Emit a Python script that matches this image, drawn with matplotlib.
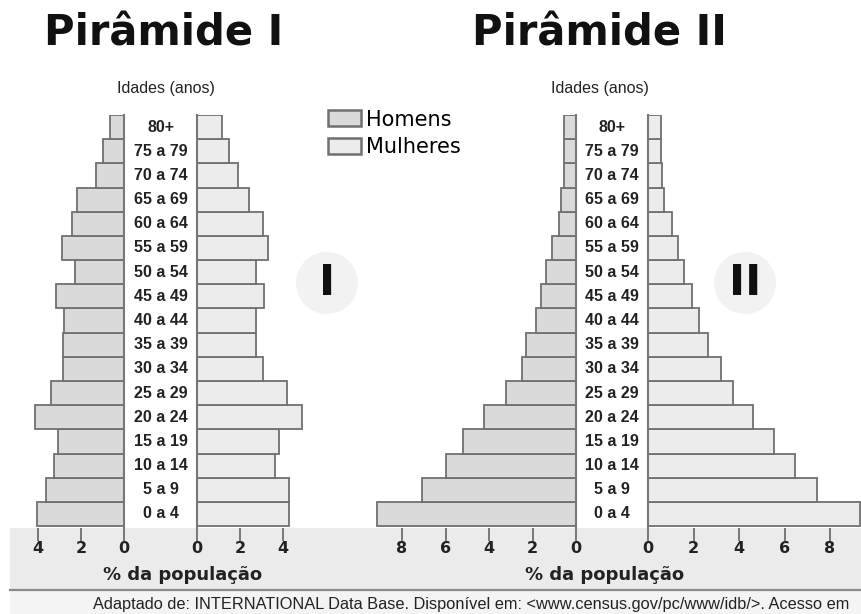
import matplotlib
matplotlib.use("Agg")
import matplotlib.pyplot as plt
from matplotlib.patches import Rectangle, Ellipse, Patch
from matplotlib import font_manager

ages = ["0 a 4", "5 a 9", "10 a 14", "15 a 19", "20 a 24", "25 a 29", "30 a 34",
        "35 a 39", "40 a 44", "45 a 49", "50 a 54", "55 a 59", "60 a 64",
        "65 a 69", "70 a 74", "75 a 79", "80+"]

# Pirâmide I (% da população)
homens_1 = [4.05, 3.65, 3.25, 3.05, 4.15, 3.4, 2.85, 2.85, 2.8, 3.15, 2.3, 2.9, 2.4, 2.2, 1.3, 1.0, 0.65]
mulheres_1 = [4.3, 4.3, 3.65, 3.8, 4.9, 4.2, 3.05, 2.75, 2.75, 3.1, 2.75, 3.3, 3.05, 2.4, 1.9, 1.5, 1.15]

# Pirâmide II (% da população)
homens_2 = [9.15, 7.1, 6.0, 5.2, 4.25, 3.2, 2.5, 2.3, 1.85, 1.6, 1.4, 1.1, 0.8, 0.7, 0.55, 0.55, 0.55]
mulheres_2 = [9.3, 7.45, 6.45, 5.55, 4.6, 3.75, 3.2, 2.65, 2.25, 1.95, 1.6, 1.3, 1.05, 0.7, 0.6, 0.55, 0.55]

ticks_1 = [0, 2, 4]
ticks_2 = [0, 2, 4, 6, 8]

W, H = 861, 614
names = {f.name for f in font_manager.fontManager.ttflist}
NARROW = "Liberation Sans Narrow" if "Liberation Sans Narrow" in names else "Liberation Sans"

fig = plt.figure(figsize=(W / 100, H / 100), dpi=100)
fig.patch.set_facecolor("white")


def fx(px):
    return px / W


def fy(py):
    return 1 - py / H


def add_ax(x0, x1, y0, y1):
    ax = fig.add_axes([fx(x0), fy(y1), fx(x1) - fx(x0), fy(y0) - fy(y1)])
    ax.set_zorder(2)
    return ax


# background bands
fig.patches.append(Rectangle((fx(10), fy(590)), 1 - fx(10), fy(528) - fy(590),
                             transform=fig.transFigure, facecolor="#ebebeb", edgecolor="none", zorder=-10))
fig.patches.append(Rectangle((fx(10), 0), 1 - fx(10), fy(590),
                             transform=fig.transFigure, facecolor="#f4f4f4", edgecolor="none", zorder=-10))
fig.lines.append(plt.Line2D([fx(10), 1], [fy(590), fy(590)], transform=fig.transFigure,
                            color="#8a8a8a", lw=1.6, zorder=-9))

C_H = "#dadada"
C_M = "#ececec"
EC = "#707070"
y = list(range(len(ages)))

EDGE_COLOR = "#777777"


def style(ax, side, xlim, ticks):
    ax.set_facecolor("none")
    for s in ["top", "bottom", "left", "right"]:
        ax.spines[s].set_visible(False)
    ax.spines[side].set_visible(True)
    ax.spines[side].set_color(EDGE_COLOR)
    ax.spines[side].set_linewidth(1.5)
    ax.set_ylim(-0.58, 16.5)
    ax.set_xlim(*xlim)
    ax.set_yticks([])
    ax.set_xticks(ticks)
    ax.set_xticklabels([str(t) for t in ticks])
    ax.tick_params(axis="x", direction="out", length=9, width=1.4, color=EDGE_COLOR,
                   pad=0.5, labelsize=11.5)
    for lab in ax.get_xticklabels():
        lab.set_fontweight("bold")
        lab.set_color("#222222")


def pyramid(h, m, lz, lleft, rz, rright, lscale_max, rscale_max, ticks):
    axl = add_ax(lleft, lz, 115, 528)
    axl.barh(y, h, height=1.0, color=C_H, edgecolor=EC, linewidth=1.3, zorder=2)
    style(axl, "right", (lscale_max, 0), ticks)
    axr = add_ax(rz, rright, 115, 528)
    axr.barh(y, m, height=1.0, color=C_M, edgecolor=EC, linewidth=1.3, zorder=2)
    style(axr, "left", (0, rscale_max), ticks)
    cx = (lz + rz) / 2
    for i, a in enumerate(ages):
        yy = axl.transData.transform((0, i))[1]
        fig.text(fx(cx), yy / fig.dpi / fig.get_figheight(), a, ha="center", va="center",
                 fontsize=11.5, fontweight="bold", family=NARROW, color="#222222")
    return cx


# Pyramid I: zero at px 124 (left) and 197 (right), 21.5 px per unit
cx1 = pyramid(homens_1, mulheres_1, 124, 124 - 4.5 * 21.5, 197, 197 + 5.0 * 21.5, 4.5, 5.0, ticks_1)
# Pyramid II: zero at px 576 (left, 21.75 px/unit) and 648 (right, 22.75 px/unit)
cx2 = pyramid(homens_2, mulheres_2, 576, 576 - 9.3 * 21.75, 648, 648 + 9.35 * 22.75, 9.3, 9.35, ticks_2)

# Titles
fig.text(fx(164), fy(33), "Pirâmide I", ha="center", va="center", fontsize=30,
         fontweight="heavy", family="DejaVu Sans", color="#111111")
fig.text(fx(599), fy(33), "Pirâmide II", ha="center", va="center", fontsize=30,
         fontweight="heavy", family="DejaVu Sans", color="#111111")

fig.text(fx(166), fy(88), "Idades (anos)", ha="center", va="center", fontsize=11.5,
         family=NARROW, color="#222222")
fig.text(fx(600), fy(88), "Idades (anos)", ha="center", va="center", fontsize=11.5,
         family=NARROW, color="#222222")

# X labels
fig.text(fx(183), fy(575), "% da população", ha="center", va="center", fontsize=13,
         fontweight="bold", family="DejaVu Sans", color="#222222")
fig.text(fx(605), fy(575), "% da população", ha="center", va="center", fontsize=13,
         fontweight="bold", family="DejaVu Sans", color="#222222")

# Footer
fig.text(fx(93), fy(604), "Adaptado de: INTERNATIONAL Data Base. Disponível em: <www.census.gov/pc/www/idb/>. Acesso em",
         ha="left", va="center", fontsize=11.8, family=NARROW, color="#222222")

# Roman numerals with circles
for (cx, cy, txt) in [(327, 283, "I"), (745, 283, "II")]:
    fig.patches.append(Ellipse((fx(cx), fy(cy)), 62 / W, 62 / H, transform=fig.transFigure,
                               facecolor="#f2f2f2", edgecolor="none", zorder=-8))
    fig.text(fx(cx), fy(cy), txt, ha="center", va="center", fontsize=31, fontweight="bold",
             family="DejaVu Sans", color="#111111")

# Legend
handles = [Patch(facecolor=C_H, edgecolor=EC, linewidth=1.8, label="Homens"),
           Patch(facecolor=C_M, edgecolor=EC, linewidth=1.8, label="Mulheres")]
fig.legend(handles=handles, loc="upper left", bbox_to_anchor=(fx(313), fy(95)),
           frameon=False, handlelength=1.6, handleheight=0.8,
           handletextpad=0.25, labelspacing=0.35, borderpad=0.2,
           prop={"family": "DejaVu Sans", "size": 15})

fig.savefig("out.png", dpi=100)
